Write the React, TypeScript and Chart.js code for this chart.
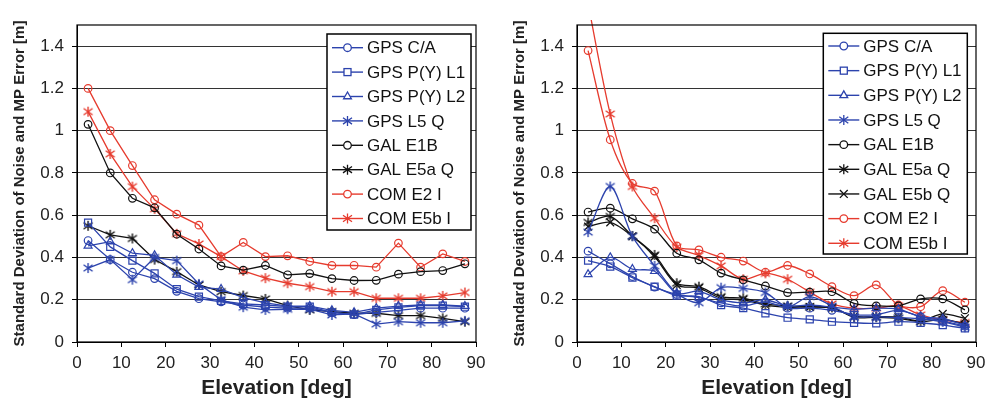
import React, { useEffect, useRef } from "react";
import { Chart, registerables } from "chart.js";

Chart.register(...registerables);

// ---------- data ----------
const elevations = [2.5, 7.5, 12.5, 17.5, 22.5, 27.5, 32.5, 37.5, 42.5, 47.5, 52.5, 57.5, 62.5, 67.5, 72.5, 77.5, 82.5, 87.5];
const xTickValues = [0, 10, 20, 30, 40, 50, 60, 70, 80, 90];
const yTickValues = [0, 0.2, 0.4, 0.6, 0.8, 1.0, 1.2, 1.4];

const xTitle = "Elevation [deg]";
const yTitle = "Standard Deviation of Noise and MP Error [m]";

const leftNames = ["GPS C/A", "GPS P(Y) L1", "GPS P(Y) L2", "GPS L5 Q", "GAL E1B", "GAL E5a Q", "COM E2 I", "COM E5b I"];
const rightNames = ["GPS C/A", "GPS P(Y) L1", "GPS P(Y) L2", "GPS L5 Q", "GAL E1B", "GAL E5a Q", "GAL E5b Q", "COM E2 I", "COM E5b I"];

// left panel
const leftGpsCA = [0.48, 0.39, 0.33, 0.30, 0.24, 0.205, 0.19, 0.175, 0.165, 0.16, 0.16, 0.14, 0.13, 0.14, 0.15, 0.16, 0.16, 0.16];
const leftGpsPY1 = [0.565, 0.45, 0.385, 0.325, 0.25, 0.215, 0.195, 0.18, 0.175, 0.167, 0.167, 0.14, 0.13, 0.152, 0.164, 0.172, 0.172, 0.167];
const leftGpsPY2 = [0.455, 0.475, 0.42, 0.41, 0.318, 0.26, 0.25, 0.21, 0.185, 0.17, 0.17, 0.15, 0.14, 0.16, 0.17, 0.175, 0.175, 0.17];
const leftGpsL5 = [0.35, 0.39, 0.295, 0.40, 0.385, 0.275, 0.20, 0.165, 0.152, 0.155, 0.155, 0.128, 0.133, 0.085, 0.096, 0.091, 0.091, 0.10];
const leftGalE1B = [1.03, 0.80, 0.68, 0.635, 0.51, 0.44, 0.36, 0.34, 0.362, 0.318, 0.324, 0.30, 0.291, 0.292, 0.321, 0.333, 0.338, 0.37];
const leftGalE5a = [0.55, 0.507, 0.49, 0.39, 0.333, 0.27, 0.238, 0.22, 0.204, 0.172, 0.152, 0.144, 0.136, 0.136, 0.125, 0.125, 0.112, 0.096];
const leftComE2 = [1.2, 1.0, 0.835, 0.673, 0.605, 0.553, 0.404, 0.471, 0.404, 0.408, 0.381, 0.362, 0.363, 0.354, 0.468, 0.354, 0.417, 0.381];
const leftComE5b = [1.09, 0.89, 0.735, 0.63, 0.512, 0.464, 0.404, 0.336, 0.302, 0.278, 0.262, 0.238, 0.238, 0.207, 0.207, 0.207, 0.218, 0.234];

// right panel
const rightGpsCA = [0.43, 0.37, 0.31, 0.26, 0.225, 0.21, 0.185, 0.17, 0.19, 0.16, 0.16, 0.15, 0.13, 0.13, 0.15, 0.12, 0.10, 0.075];
const rightGpsPY1 = [0.385, 0.357, 0.305, 0.262, 0.22, 0.215, 0.175, 0.16, 0.136, 0.115, 0.107, 0.096, 0.091, 0.088, 0.096, 0.091, 0.08, 0.065];
const rightGpsPY2 = [0.32, 0.40, 0.345, 0.335, 0.23, 0.24, 0.20, 0.185, 0.20, 0.17, 0.175, 0.165, 0.155, 0.16, 0.155, 0.12, 0.11, 0.08];
const rightGpsL5 = [0.52, 0.736, 0.50, 0.36, 0.231, 0.186, 0.257, 0.254, 0.234, 0.167, 0.215, 0.17, 0.12, 0.12, 0.115, 0.11, 0.095, 0.07];
const rightGalE1B = [0.615, 0.633, 0.583, 0.534, 0.42, 0.389, 0.326, 0.294, 0.265, 0.234, 0.236, 0.238, 0.183, 0.171, 0.171, 0.204, 0.204, 0.152];
const rightGalE5a = [0.566, 0.594, 0.502, 0.412, 0.278, 0.262, 0.215, 0.207, 0.18, 0.171, 0.167, 0.164, 0.117, 0.117, 0.112, 0.096, 0.107, 0.085];
const rightGalE5b = [0.546, 0.566, 0.50, 0.404, 0.27, 0.255, 0.207, 0.2, 0.175, 0.165, 0.165, 0.16, 0.122, 0.12, 0.118, 0.10, 0.133, 0.112];
const rightComE2 = [1.379, 0.957, 0.75, 0.714, 0.455, 0.436, 0.401, 0.383, 0.33, 0.362, 0.322, 0.262, 0.219, 0.27, 0.175, 0.167, 0.243, 0.188];
const rightComE5b = [1.6, 1.079, 0.736, 0.586, 0.449, 0.409, 0.36, 0.297, 0.325, 0.297, 0.236, 0.18, 0.16, 0.16, 0.171, 0.128, 0.104, 0.092];

const leftValues = [leftGpsCA, leftGpsPY1, leftGpsPY2, leftGpsL5, leftGalE1B, leftGalE5a, leftComE2, leftComE5b];
const rightValues = [rightGpsCA, rightGpsPY1, rightGpsPY2, rightGpsL5, rightGalE1B, rightGalE5a, rightGalE5b, rightComE2, rightComE5b];

// ---------- styles ----------
const BLUE = "#2c43ad";
const BLACK = "#111111";
const RED = "#e63b2e";
const FONT = "'Liberation Sans', Arial, Helvetica, sans-serif";

type Marker = "circle" | "rect" | "triangle" | "asterisk" | "cross";
const styleFor: Record<string, { color: string; marker: Marker }> = {
  "GPS C/A": { color: BLUE, marker: "circle" },
  "GPS P(Y) L1": { color: BLUE, marker: "rect" },
  "GPS P(Y) L2": { color: BLUE, marker: "triangle" },
  "GPS L5 Q": { color: BLUE, marker: "asterisk" },
  "GAL E1B": { color: BLACK, marker: "circle" },
  "GAL E5a Q": { color: BLACK, marker: "asterisk" },
  "GAL E5b Q": { color: BLACK, marker: "cross" },
  "COM E2 I": { color: RED, marker: "circle" },
  "COM E5b I": { color: RED, marker: "asterisk" },
};

function drawAsteriskPath(ctx: CanvasRenderingContext2D, cx: number, cy: number) {
  ctx.beginPath();
  ctx.moveTo(cx, cy - 5);
  ctx.lineTo(cx, cy + 5);
  ctx.moveTo(cx - 4.5, cy - 3.2);
  ctx.lineTo(cx + 4.5, cy + 3.2);
  ctx.moveTo(cx + 4.5, cy - 3.2);
  ctx.lineTo(cx - 4.5, cy + 3.2);
  ctx.stroke();
}

function makeAsterisk(color: string) {
  const c = document.createElement("canvas");
  c.width = 12;
  c.height = 12;
  const ctx = c.getContext("2d")!;
  ctx.strokeStyle = color;
  ctx.lineWidth = 1.4;
  drawAsteriskPath(ctx, 6, 6);
  return c;
}

function drawLegendMarker(ctx: CanvasRenderingContext2D, marker: Marker, x: number, y: number, color: string) {
  ctx.save();
  ctx.strokeStyle = color;
  ctx.fillStyle = "#fff";
  ctx.lineWidth = 1.3;
  if (marker === "circle") {
    ctx.beginPath();
    ctx.arc(x, y, 3.8, 0, Math.PI * 2);
    ctx.fill();
    ctx.stroke();
  } else if (marker === "rect") {
    ctx.fillRect(x - 3.5, y - 3.5, 7, 7);
    ctx.strokeRect(x - 3.5, y - 3.5, 7, 7);
  } else if (marker === "triangle") {
    ctx.beginPath();
    ctx.moveTo(x, y - 4.5);
    ctx.lineTo(x + 3.9, y + 2.25);
    ctx.lineTo(x - 3.9, y + 2.25);
    ctx.closePath();
    ctx.fill();
    ctx.stroke();
  } else if (marker === "asterisk") {
    drawAsteriskPath(ctx, x, y);
  } else {
    ctx.beginPath();
    ctx.moveTo(x - 3.9, y - 3.9);
    ctx.lineTo(x + 3.9, y + 3.9);
    ctx.moveTo(x + 3.9, y - 3.9);
    ctx.lineTo(x - 3.9, y + 3.9);
    ctx.stroke();
  }
  ctx.restore();
}

const framePlugin = {
  id: "frame",
  afterDatasetsDraw(chart: any) {
    const { ctx, chartArea: a } = chart;
    ctx.save();
    ctx.strokeStyle = "#000";
    ctx.lineWidth = 1.2;
    ctx.strokeRect(a.left, a.top, a.right - a.left, a.bottom - a.top);
    ctx.restore();
  },
};

const boxLegendPlugin = {
  id: "boxLegend",
  afterDraw(chart: any, _args: any, opts: any) {
    const { ctx } = chart;
    ctx.save();
    ctx.fillStyle = "#fff";
    ctx.fillRect(opts.x, opts.y, opts.w, opts.h);
    ctx.strokeStyle = "#000";
    ctx.lineWidth = 1.5;
    ctx.strokeRect(opts.x, opts.y, opts.w, opts.h);
    ctx.font = `17px ${FONT}`;
    ctx.textBaseline = "middle";
    ctx.textAlign = "left";
    chart.data.datasets.forEach((ds: any, i: number) => {
      const st = styleFor[ds.label];
      const cy = opts.y + opts.first + i * opts.row;
      ctx.strokeStyle = st.color;
      ctx.lineWidth = 1.4;
      ctx.beginPath();
      ctx.moveTo(opts.x + 5, cy);
      ctx.lineTo(opts.x + 36, cy);
      ctx.stroke();
      drawLegendMarker(ctx, st.marker, opts.x + 20.5, cy, st.color);
      ctx.fillStyle = "#111";
      ctx.fillText(ds.label, opts.x + 40, cy + 1);
    });
    ctx.restore();
  },
};

function buildDatasets(names: string[], values: number[][], tension: number, asterisks: Record<string, HTMLCanvasElement>) {
  return names.map((name, k) => {
    const st = styleFor[name];
    let pointStyle: any = "circle";
    let radius = 3.8;
    if (st.marker === "rect") { pointStyle = "rect"; radius = 5; }
    else if (st.marker === "triangle") { pointStyle = "triangle"; radius = 4.6; }
    else if (st.marker === "asterisk") { pointStyle = asterisks[st.color]; radius = 5; }
    else if (st.marker === "cross") { pointStyle = "crossRot"; radius = 5.5; }
    return {
      label: name,
      data: elevations.map((x, i) => ({ x, y: values[k][i] })),
      borderColor: st.color,
      borderWidth: 1.3,
      pointStyle,
      pointRadius: radius,
      pointBorderColor: st.color,
      pointBackgroundColor: "rgba(0,0,0,0)",
      pointBorderWidth: 1.2,
      tension,
      fill: false,
      clip: { left: 3, right: 3, top: 5, bottom: 3 },
    };
  });
}

function makeConfig(datasets: any[], legend: any) {
  return {
    type: "line" as const,
    data: { datasets },
    options: {
      responsive: false,
      animation: false as const,
      devicePixelRatio: 1,
      layout: { padding: { left: 0, right: 24, top: 25, bottom: 0 } },
      plugins: {
        legend: { display: false },
        tooltip: { enabled: false },
        boxLegend: legend,
      },
      scales: {
        x: {
          type: "linear" as const,
          min: 0,
          max: 90,
          afterBuildTicks: (s: any) => { s.ticks = xTickValues.map((v) => ({ value: v })); },
          afterFit: (s: any) => { s.height = 62; },
          ticks: {
            autoSkip: false,
            maxRotation: 0,
            padding: 6,
            color: "#222",
            font: { family: FONT, size: 17 },
            callback: (v: any) => String(v),
          },
          grid: { drawOnChartArea: false, drawTicks: true, tickLength: 5, color: "#000" },
          border: { display: true, color: "#000", width: 1 },
          title: {
            display: true,
            text: xTitle,
            color: "#222",
            font: { family: FONT, size: 21, weight: "bold" as const },
            padding: { top: 0, bottom: 3 },
          },
        },
        y: {
          type: "linear" as const,
          min: 0,
          max: 1.5,
          afterBuildTicks: (s: any) => { s.ticks = yTickValues.map((v) => ({ value: v })); },
          afterFit: (s: any) => { s.width = 77; },
          ticks: {
            autoSkip: false,
            padding: 8,
            color: "#222",
            font: { family: FONT, size: 17 },
            callback: (v: any) => String(Math.round(Number(v) * 10) / 10),
          },
          grid: { color: "#333", lineWidth: 1, drawTicks: true, tickLength: 5, tickColor: "#000" },
          border: { display: true, color: "#000", width: 1 },
          title: {
            display: true,
            text: yTitle,
            color: "#222",
            font: { family: FONT, size: 15, weight: "bold" as const },
            padding: { top: 11, bottom: 0 },
          },
        },
      },
    },
    plugins: [framePlugin, boxLegendPlugin],
  };
}

export default function App() {
  const leftRef = useRef<HTMLCanvasElement>(null);
  const rightRef = useRef<HTMLCanvasElement>(null);

  useEffect(() => {
    const asterisks: Record<string, HTMLCanvasElement> = {
      [BLUE]: makeAsterisk(BLUE),
      [BLACK]: makeAsterisk(BLACK),
      [RED]: makeAsterisk(RED),
    };
    const left = new Chart(
      leftRef.current!,
      makeConfig(buildDatasets(leftNames, leftValues, 0, asterisks), {
        x: 327, y: 34, w: 144, h: 196, first: 13.7, row: 24.4,
      }) as any
    );
    const right = new Chart(
      rightRef.current!,
      makeConfig(buildDatasets(rightNames, rightValues, 0.3, asterisks), {
        x: 323.3, y: 33.3, w: 144, h: 220.7, first: 12.7, row: 24.66,
      }) as any
    );
    return () => {
      left.destroy();
      right.destroy();
    };
  }, []);

  return (
    <div style={{ position: "absolute", left: 0, top: 0, width: 1000, height: 404, display: "flex", background: "#fff" }}>
      <canvas ref={leftRef} width={500} height={404} style={{ display: "block", width: 500, height: 404 }} />
      <canvas ref={rightRef} width={500} height={404} style={{ display: "block", width: 500, height: 404 }} />
    </div>
  );
}
